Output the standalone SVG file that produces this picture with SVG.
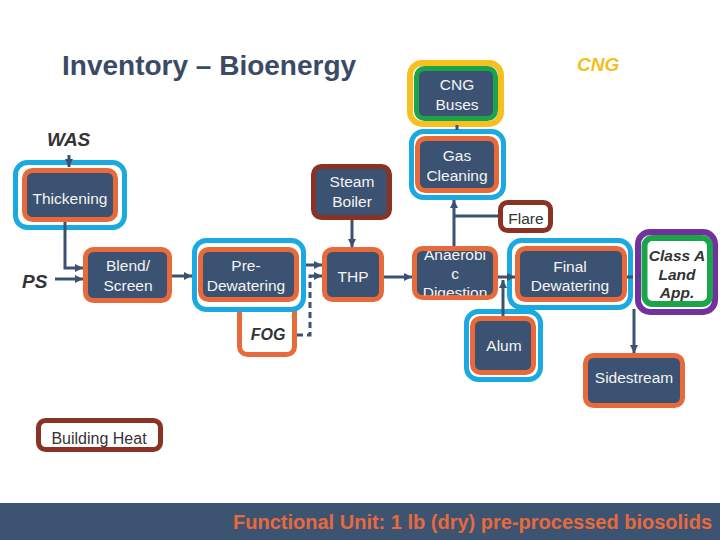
<svg xmlns="http://www.w3.org/2000/svg" width="720" height="540" viewBox="0 0 720 540">
<style>
.dk{fill:#3B5272;stroke:#E8693A;stroke-width:5}
.blue{fill:#FFFFFF;stroke:#1BA9E1;stroke-width:5}
.brown{fill:#3B5272;stroke:#8A3324;stroke-width:5}
.brownw{fill:#FFFFFF;stroke:#8A3324;stroke-width:5}
.orw{fill:#FFFFFF;stroke:#E8693A;stroke-width:5}
.t{font-family:"Liberation Sans",Arial,sans-serif;font-size:15.5px;fill:#F4F4F4;text-anchor:middle}
.td{font-family:"Liberation Sans",Arial,sans-serif;font-size:15.5px;fill:#333333;text-anchor:middle}
.bi{font-family:"Liberation Sans",Arial,sans-serif;font-weight:bold;font-style:italic;fill:#333333}
.ln{fill:none;stroke:#3B5272;stroke-width:3}
.ar{marker-end:url(#ah)}
.dash{stroke-dasharray:6 4}
</style>
<defs>
<marker id="ah" markerUnits="userSpaceOnUse" markerWidth="9" markerHeight="9" refX="8" refY="4.5" orient="auto">
<path d="M0,0.5 L8,4.5 L0,8.5 z" fill="#3B5272"/>
</marker>
<clipPath id="adclip"><rect x="417" y="251" width="76" height="44.5"/></clipPath>
</defs>
<rect width="720" height="540" fill="#FFFFFF"/>

<text x="62" y="75" font-family="Liberation Sans,Arial,sans-serif" font-weight="bold" font-size="28" fill="#3B4B66">Inventory – Bioenergy</text>
<text x="577" y="71" class="bi" font-size="19" style="fill:#F2C01E">CNG</text>
<text x="47" y="146" class="bi" font-size="19">WAS</text>
<text x="22" y="288" class="bi" font-size="19">PS</text>

<g id="fog">
<rect class="orw" x="239.5" y="295" width="55" height="59.5" rx="8"/>
<text x="268" y="340" class="bi" font-size="16" text-anchor="middle">FOG</text>
</g>

<g id="thickening">
<rect class="blue" x="15.5" y="162.5" width="109" height="65" rx="12"/>
<rect class="dk" x="24.5" y="170.5" width="91" height="49" rx="8"/>
<text class="t" x="70" y="204">Thickening</text>
</g>

<g id="blend">
<rect class="dk" x="85.5" y="249.5" width="84" height="51" rx="8"/>
<text class="t" x="128" y="271">Blend/</text>
<text class="t" x="128" y="291">Screen</text>
</g>

<g id="predewatering">
<rect class="blue" x="194.5" y="240.5" width="109" height="69" rx="12"/>
<rect class="dk" x="200.5" y="249.5" width="96" height="50" rx="8"/>
<text class="t" x="246" y="271">Pre-</text>
<text class="t" x="246" y="291">Dewatering</text>
</g>

<g id="steamboiler">
<rect class="brown" x="313.5" y="166.5" width="76" height="51" rx="8"/>
<text class="t" x="352" y="187">Steam</text>
<text class="t" x="352" y="207">Boiler</text>
</g>

<g id="thp">
<rect class="dk" x="324.5" y="249.5" width="57" height="50" rx="8"/>
<text class="t" x="353" y="282">THP</text>
</g>

<g id="cngbuses">
<rect x="410" y="63" width="91" height="61" rx="12" fill="#FFFFFF" stroke="#F7C01E" stroke-width="6"/>
<rect x="416.5" y="68.5" width="79" height="50" rx="8" fill="#3B5272" stroke="#1AA54B" stroke-width="5"/>
<text class="t" x="457" y="90">CNG</text>
<text class="t" x="457" y="110">Buses</text>
</g>

<g id="gascleaning">
<rect class="blue" x="411.5" y="131.5" width="92" height="66" rx="12"/>
<rect class="dk" x="417.5" y="138.5" width="79" height="52" rx="8"/>
<text class="t" x="457" y="161">Gas</text>
<text class="t" x="457" y="181">Cleaning</text>
</g>

<g id="flare">
<rect class="brownw" x="500.5" y="202.5" width="50" height="28" rx="7"/>
<text class="td" x="526" y="224">Flare</text>
</g>

<g id="anaerobic">
<rect class="dk" x="414.5" y="248.5" width="81" height="49" rx="8"/>
<g clip-path="url(#adclip)">
<text class="t" x="455" y="260">Anaerobi</text>
<text class="t" x="455" y="279">c</text>
<text class="t" x="455" y="298">Digestion</text>
</g>
</g>

<g id="finaldewatering">
<rect class="blue" x="509.5" y="240.5" width="121" height="67" rx="12"/>
<rect class="dk" x="517.5" y="248.5" width="107" height="51" rx="8"/>
<text class="t" x="570" y="272">Final</text>
<text class="t" x="570" y="291">Dewatering</text>
</g>

<g id="alum">
<rect class="blue" x="466.5" y="311.5" width="74" height="68" rx="12"/>
<rect class="dk" x="472.5" y="318.5" width="61" height="54" rx="8"/>
<text class="t" x="504" y="351">Alum</text>
</g>

<g id="classa">
<rect x="638" y="232" width="77" height="80" rx="12" fill="#FFFFFF" stroke="#7331A0" stroke-width="6"/>
<rect x="644.5" y="238" width="65.5" height="66" rx="8" fill="#FFFFFF" stroke="#1AA54B" stroke-width="6"/>
<text class="bi" x="677" y="261" font-size="15.5" text-anchor="middle">Class A</text>
<text class="bi" x="677" y="280" font-size="15.5" text-anchor="middle">Land</text>
<text class="bi" x="677" y="298" font-size="15.5" text-anchor="middle">App.</text>
</g>

<g id="sidestream">
<rect class="dk" x="585.5" y="355.5" width="97" height="50" rx="8"/>
<text class="t" x="634" y="383">Sidestream</text>
</g>

<g id="buildingheat">
<rect class="brownw" x="38.5" y="420.5" width="122" height="29" rx="7"/>
<text class="td" x="99" y="444" style="font-size:16px">Building Heat</text>
</g>

<g id="connectors">
<path class="ln ar" d="M69,155 V167"/>
<path class="ln ar" d="M65,222 V268 H83"/>
<path class="ln ar" d="M55,279 H83"/>
<path class="ln ar" d="M172,276 H192"/>
<path class="ln ar" d="M306,265 H322"/>
<path class="ln dash ar" d="M297,335 H310 V276 H322"/>
<path class="ln ar" d="M352,220 V247"/>
<path class="ln ar" d="M384,277 H412"/>
<path class="ln ar" d="M454,246 V200"/>
<path class="ln" d="M454,216 H498"/>
<path class="ln" d="M457,125 V130"/>
<path class="ln ar" d="M498,277 H515"/>
<path class="ln ar" d="M503,316 V280"/>
<path class="ln dash" d="M627,277 H641"/>
<path class="ln ar" d="M634,309 V353"/>
</g>

<g id="footer">
<rect x="0" y="503" width="720" height="37" fill="#3D5372"/>
<text x="712" y="529" text-anchor="end" font-family="Liberation Sans,Arial,sans-serif" font-weight="bold" font-size="20" fill="#E8693A">Functional Unit: 1 lb (dry) pre-processed biosolids</text>
</g>
</svg>
